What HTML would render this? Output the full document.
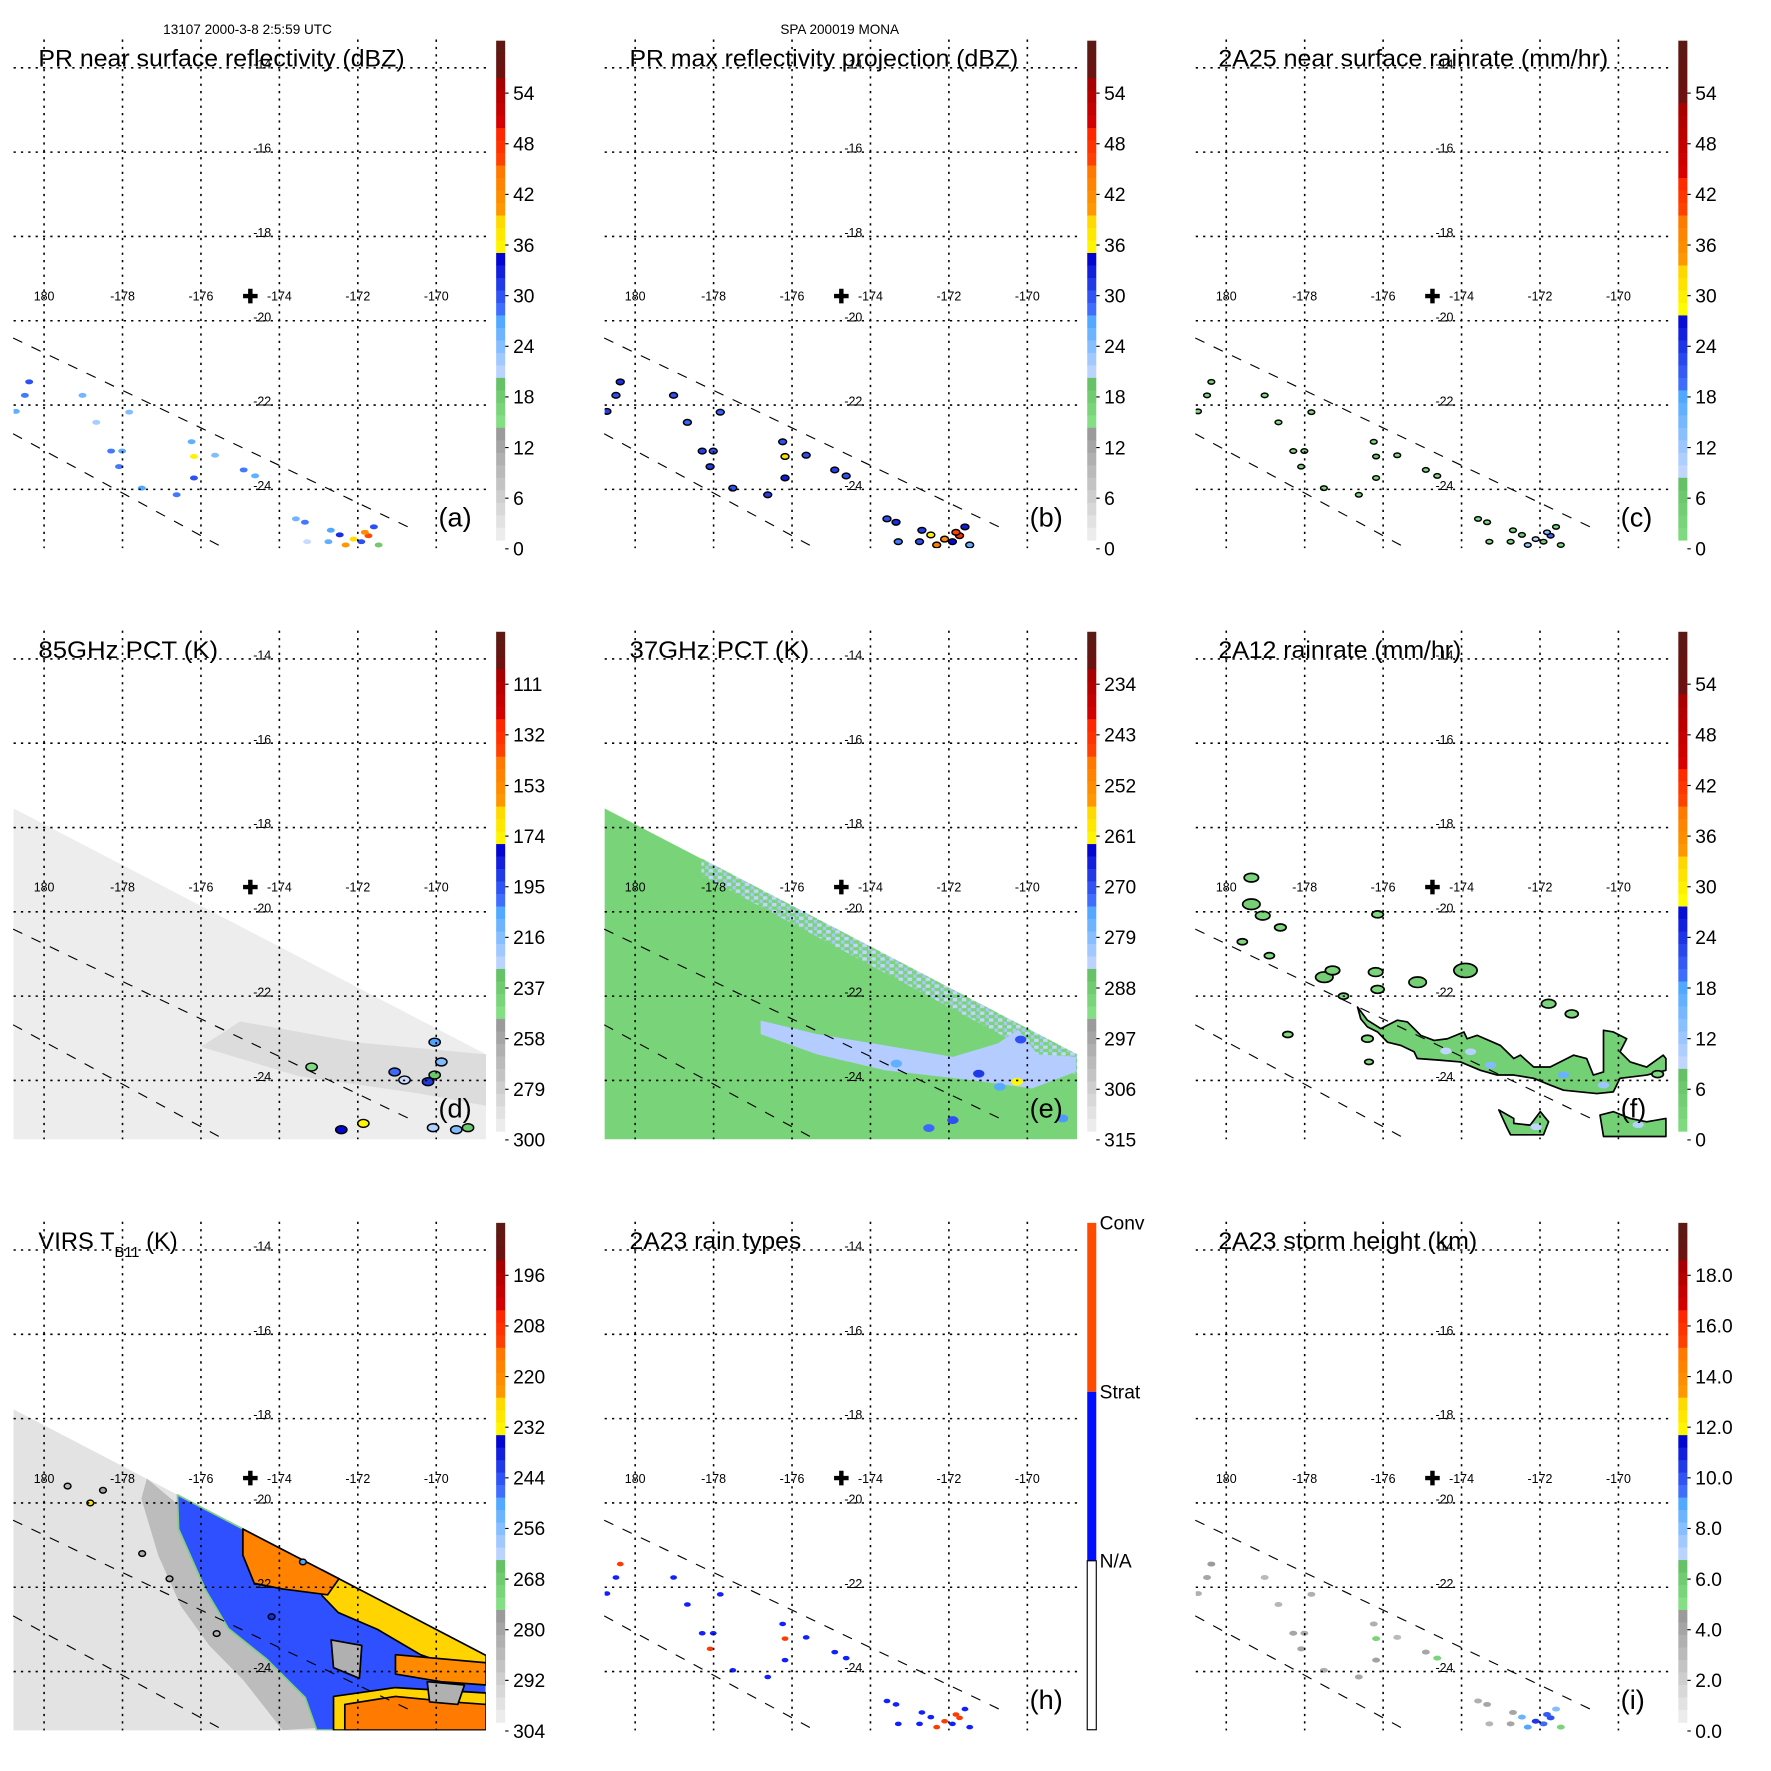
<!DOCTYPE html>
<html><head><meta charset="utf-8">
<style>
html,body{margin:0;padding:0;background:#fff;}
svg{display:block;font-family:"Liberation Sans",Arial,sans-serif;}
</style></head>
<body>
<svg id="fig" xmlns="http://www.w3.org/2000/svg" width="1771" height="1771" viewBox="0 0 1567 1567">
<rect x="0" y="0" width="1567" height="1567" fill="#fff"/>
<text x="219" y="30" font-size="12" text-anchor="middle">13107 2000-3-8 2:5:59 UTC</text>
<text x="743" y="30" font-size="12" text-anchor="middle">SPA 200019 MONA</text>
</svg>
<script>
// ---------- data arrays ----------
const lonTicks=[180,182,184,186,188,190];
const lonTickLabels=['180','-178','-176','-174','-172','-170'];
const latTicks=[-14,-16,-18,-20,-22,-24];
const latTickLabels=['-14','-16','-18','-20','-22','-24'];
const panelTitles=['PR near surface reflectivity (dBZ)','PR max reflectivity projection (dBZ)','2A25 near surface rainrate (mm/hr)','85GHz PCT (K)','37GHz PCT (K)','2A12 rainrate (mm/hr)','VIRS T','2A23 rain types','2A23 storm height (km)'];
const panelLetters=['(a)','(b)','(c)','(d)','(e)','(f)','','(h)','(i)'];
const cbLabelsA=['54','48','42','36','30','24','18','12','6','0'];
const cbLabelsD=['111','132','153','174','195','216','237','258','279','300'];
const cbLabelsE=['234','243','252','261','270','279','288','297','306','315'];
const cbLabelsG=['196','208','220','232','244','256','268','280','292','304'];
const cbLabelsI=['18.0','16.0','14.0','12.0','10.0','8.0','6.0','4.0','2.0','0.0'];
const cbLabelsH=['Conv','Strat','N/A'];
const centerLon=[185.26]; const centerLat=[-19.42];
const pmwEdgeLon=[179.19,191.27]; const pmwEdgeLat=[-17.53,-23.38];
const virsEdgeLon=[179.22,191.27]; const virsEdgeLat=[-17.78,-23.62];
const scan1Lon=[179.21,189.3]; const scan1Lat=[-20.41,-24.9];
const scan2Lon=[179.21,184.48]; const scan2Lat=[-22.68,-25.34];
// PR storm cells
const stormLon=[179.28,179.51,179.62,180.98,181.33,181.71,181.99,181.91,182.17,182.49,183.38,183.76,183.82,183.82,184.36,185.09,185.38,186.42,186.65,186.71,187.31,187.69,188.27,188.09,188.53,187.54,187.89,188.18,188.41,187.25];
const stormLat=[-22.15,-21.77,-21.45,-21.77,-22.41,-23.09,-23.09,-23.46,-22.17,-23.97,-24.13,-22.87,-23.22,-23.73,-23.19,-23.54,-23.68,-24.70,-24.78,-25.24,-24.97,-25.32,-25.10,-25.24,-25.32,-25.08,-25.18,-25.02,-24.89,-25.24];
const reflA=[26,28,30,25,22,28,26,28,24,27,28,26,36,30,24,28,26,25,28,20,27,40,45,30,18,32,38,42,30,26];
const reflB=[31,30,32,30,29,31,30,31,29,30,31,30,38,33,30,31,30,30,32,28,31,44,48,34,26,36,42,46,33,30];
const rainC=[2,2,3,1,1,2,2,2,1,2,2,2,6,3,1,2,2,1,2,1,2,12,20,4,1,5,9,14,3,2];
const typeH=[1,1,2,1,1,1,1,2,1,1,1,1,2,1,1,1,1,1,1,1,1,2,2,1,1,1,2,2,1,1];
const heightI=[3.5,4,4.5,3,3.2,4,3.8,4,3.5,3.6,4,3.5,5.5,4.2,3,4,5.5,3.5,4,3.2,4,9,10,9.5,5.5,8.5,10.5,9.8,8,4];
// 85GHz cells (d)
const pctDLon=[189.96,190.13,188.94,189.19,189.79,189.96,188.14,187.58,189.92,190.51,190.81,186.82];
const pctDLat=[-23.09,-23.56,-23.8,-23.99,-24.03,-23.87,-25.02,-25.17,-25.12,-25.17,-25.12,-23.68];
const pctDVal=[205,215,200,230,190,235,175,180,225,215,235,245];
const dDarkLon=[185.0,188.0,191.27,191.27,189.5,186.5,184.0];
const dDarkLat=[-22.6,-23.1,-23.38,-24.6,-24.3,-23.9,-23.2];
// 37GHz (e)
const eBandLon=[183.2,184.64,186.37,188.1,189.25,189.77,190.26,191.24,191.24,190.12,188.39,186.37,184.64,183.2];
const eBandLat=[-22.58,-22.9,-23.17,-23.44,-23.12,-22.79,-23.38,-23.44,-23.79,-24.19,-23.97,-23.76,-23.38,-22.9];
const eSpotLon=[189.74,188.76,188.1,187.49,189.83,186.66,190.9,189.3];
const eSpotLat=[-24.03,-23.84,-24.94,-25.13,-23.03,-23.6,-24.9,-24.15];
const eSpotVal=[262,268,270,272,270,276,274,275];
// 2A12 (f)
const fBandLon=[183.35,183.6,183.94,184.36,184.62,184.96,185.3,185.64,186.06,186.14,186.4,186.99,187.33,187.5,187.84,188.26,188.86,189.19,189.36,189.62,189.62,189.87,190.21,190.04,190.3,190.72,191.14,191.21,191.21,190.72,190.04,189.87,189.45,188.6,188.26,187.84,187.33,186.91,186.48,185.97,185.47,184.87,184.79,184.45,184.11,183.86,183.6,183.43];
const fBandLat=[-22.26,-22.57,-22.77,-22.57,-22.61,-22.93,-23.05,-23.01,-22.85,-23.01,-22.93,-23.17,-23.48,-23.4,-23.68,-23.68,-23.4,-23.48,-23.87,-23.8,-22.81,-22.85,-23.01,-23.32,-23.56,-23.68,-23.4,-23.48,-23.76,-23.87,-23.95,-24.27,-24.31,-24.23,-24.11,-23.95,-23.87,-23.87,-23.76,-23.56,-23.52,-23.48,-23.32,-23.17,-23.09,-22.85,-22.73,-22.54];
const fB1Lon=[186.95,187.33,187.33,187.75,188.01,188.22,188.09,187.25,187.16];
const fB1Lat=[-24.7,-24.9,-25.02,-25.06,-24.74,-24.98,-25.29,-25.29,-25.13];
const fB2Lon=[189.53,189.87,190.3,190.72,191.21,191.21,189.62];
const fB2Lat=[-24.82,-24.74,-24.9,-24.98,-24.9,-25.33,-25.33];
const fBlobLon=[180.64,180.64,180.93,181.38,180.41,181.1,182.5,182.71,183.81,183.86,184.88,186.1,183.86,188.22,188.81,182.99,183.6,181.57,183.64,191.0];
const fBlobLat=[-19.19,-19.82,-20.09,-20.37,-20.71,-21.04,-21.55,-21.39,-21.43,-21.84,-21.67,-21.39,-20.06,-22.18,-22.42,-22.0,-23.01,-22.91,-23.56,-23.85];
const fBlobRain=[3,4,3,2,1.5,1.5,4,3,3,2.5,4,6,2,3,2.5,1.5,2,1.5,1,2];
const fCoreLon=[186.74,186.23,188.6,189.62,185.6,190.5,187.9];
const fCoreLat=[-23.64,-23.32,-23.87,-24.11,-23.3,-25.05,-25.1];
const fCoreRain=[14,10,16,12,9,10,9];
// VIRS (g)
const gBandLon=[182.62,183.4,183.43,184.12,184.7,185.68,186.66,186.95,186.08,185.07,184.21,183.49,182.91,182.48];
const gBandLat=[-19.42,-20.03,-20.62,-22.07,-22.98,-23.71,-24.62,-25.34,-25.39,-24.19,-23.38,-22.45,-21.24,-19.9];
const gColdLon=[183.4,191.27,191.27,186.95,186.66,185.68,184.7,184.12,183.43];
const gColdLat=[-19.81,-23.62,-25.39,-25.39,-24.62,-23.71,-22.98,-22.07,-20.62];
const gO1Lon=[185.07,187.52,187.23,186.08,185.36,185.07]; const gO1Lat=[-20.62,-21.8,-22.18,-22.04,-21.91,-21.24];
const gY1Lon=[187.09,191.27,191.27,189.6,188.5,187.5,187.09]; const gY1Lat=[-21.59,-23.62,-24.15,-23.6,-23.0,-22.6,-22.2];
const gO2Lon=[188.96,191.27,191.27,190.12,188.96]; const gO2Lat=[-23.6,-23.79,-24.32,-24.24,-24.06];
const gY3Lon=[187.38,188.96,191.27,191.27,187.38]; const gY3Lat=[-24.59,-24.38,-24.51,-25.39,-25.39];
const gO3Lon=[187.67,188.96,190.4,191.27,191.27,187.67]; const gO3Lat=[-24.78,-24.59,-24.72,-24.78,-25.39,-25.39];
const gG1Lon=[187.32,188.1,188.04,187.38]; const gG1Lat=[-23.25,-23.38,-24.16,-23.91];
const gG2Lon=[189.77,190.72,190.55,189.83]; const gG2Lat=[-24.24,-24.32,-24.78,-24.72];
const gSpotLon=[181.18,180.6,181.5,182.5,183.2,184.4,185.8,186.6];
const gSpotLat=[-20.0,-19.6,-19.7,-21.2,-21.8,-23.1,-22.7,-21.4];
const gSpotVal=[230,285,280,282,282,284,240,250];

// ---------- helpers ----------
const NS='http://www.w3.org/2000/svg';
const fig=document.getElementById('fig');
function mk(tag,attrs,parent){const e=document.createElementNS(NS,tag);for(const k in attrs)e.setAttribute(k,attrs[k]);parent.appendChild(e);return e;}
function xOf(lon){return 39+(lon-180)*34.7;}
function yOf(lat){return 60+(-14-lat)*37.3;}
function pts(lons,lats){return lons.map((l,i)=>xOf(l).toFixed(1)+','+yOf(lats[i]).toFixed(1)).join(' ');}
const stdStops=[[0,'#f8f8f8'],[0.243,'#949494'],[0.245,'#86e086'],[0.326,'#66c066'],[0.328,'#d0dcff'],[0.45,'#50a8ff'],[0.47,'#4070ff'],[0.576,'#0000d0'],[0.578,'#ffff00'],[0.66,'#ffd000'],[0.662,'#ff9a00'],[0.746,'#ff7800'],[0.748,'#ff4a00'],[0.83,'#ff2000'],[0.832,'#d80000'],[0.916,'#a80000'],[0.918,'#701010'],[1,'#5a1a14']];
const rainStops=[[0,'#86e086'],[0.128,'#66c066'],[0.13,'#d0dcff'],[0.3,'#50a8ff'],[0.32,'#4070ff'],[0.464,'#0000d0'],[0.466,'#ffff00'],[0.56,'#ffd000'],[0.562,'#ff9a00'],[0.65,'#ff7800'],[0.652,'#ff4a00'],[0.74,'#ff2000'],[0.742,'#d80000'],[0.87,'#a80000'],[0.872,'#701010'],[1,'#5a1a14']];
function hex2(c){return [parseInt(c.substr(1,2),16),parseInt(c.substr(3,2),16),parseInt(c.substr(5,2),16)];}
function cmap(stops,f){f=Math.max(0,Math.min(1,f));for(let i=0;i<stops.length-1;i++){const a=stops[i],b=stops[i+1];if(f<=b[0]){const t=(b[0]-a[0])>0?(f-a[0])/(b[0]-a[0]):0;const A=hex2(a[1]),B=hex2(b[1]);return 'rgb('+A.map((v,k)=>Math.round(v+(B[k]-v)*t)).join(',')+')';}}return stops[stops.length-1][1];}

const fA=v=>v/60, fC=v=>v/60, fD=v=>(300-v)/210, fE=v=>(315-v)/90, fG=v=>(304-v)/120, fI=v=>v/20;

// defs
const defs=mk('defs',{},fig);
const clip=mk('clipPath',{id:'plotclip'},defs);
mk('rect',{x:12,y:35,width:418,height:450},clip);
const pat=mk('pattern',{id:'edgepat',width:8,height:6,patternUnits:'userSpaceOnUse'},defs);
mk('rect',{x:0,y:0,width:8,height:6,fill:'#7ad47a'},pat);
mk('rect',{x:0,y:0,width:4,height:3,fill:'#c4d4ff'},pat);
mk('rect',{x:5,y:3,width:3,height:3,fill:'#a9c6ff'},pat);

function panel(idx){
  const col=idx%3,row=Math.floor(idx/3);
  const g=mk('g',{transform:'translate('+(col*523)+','+(row*523)+')'},fig);
  
  
  const data=mk('g',{'clip-path':'url(#plotclip)'},g);
  
  
  return {g,data};
}
function swath(parent,lonE,latE,fill){
  const lons=[lonE[0],lonE[1],191.3,179.2]; const lats=[latE[0],latE[1],-25.45,-25.45];
  const p=mk('polygon',{points:pts(lons,lats),fill:fill},parent);
  
  
  return p;
}
function poly(parent,lons,lats,fill,stroke,name){
  const p=mk('polygon',{points:pts(lons,lats),fill:fill,stroke:stroke||'none','stroke-width':1.5,'stroke-linejoin':'round'},parent);
  
  
  return p;
}
function cells(parent,lons,lats,vals,colorFn,rx,ry,stroke,name){
  lons.forEach((l,i)=>{
    const e=mk('ellipse',{cx:xOf(l).toFixed(1),cy:yOf(lats[i]).toFixed(1),rx:rx,ry:ry,fill:colorFn(vals[i]),stroke:stroke||'none','stroke-width':1.3},parent);
    
    
  });
}
function frame(p,idx,labels,stops,fracOf){
  const g=p.g;
  const grid=mk('g',{stroke:'#000','stroke-width':1.4,'stroke-dasharray':'2 4.5'},g);
  
  
  lonTicks.forEach(l=>{const ln=mk('line',{x1:xOf(l),x2:xOf(l),y1:35,y2:485},grid);
    
    });
  latTicks.forEach(l=>{const ln=mk('line',{x1:12,x2:430,y1:yOf(l),y2:yOf(l)},grid);
    
    });
  [[scan1Lon,scan1Lat],[scan2Lon,scan2Lat]].forEach(s=>{
    const ln=mk('line',{x1:xOf(s[0][0]),y1:yOf(s[1][0]),x2:xOf(s[0][1]),y2:yOf(s[1][1]),stroke:'#000','stroke-width':1,'stroke-dasharray':'9 9'},g);
    
    
  });
  lonTicks.forEach((l,i)=>{const t=mk('text',{x:xOf(l),y:266,'font-size':11,'text-anchor':'middle'},g);t.textContent=lonTickLabels[i];
    
    });
  latTicks.forEach((l,i)=>{const t=mk('text',{x:240,y:yOf(l)+0.5,'font-size':11,'text-anchor':'end'},g);t.textContent=latTickLabels[i];
    
    });
  const c=mk('text',{x:xOf(centerLon[0]),y:yOf(centerLat[0])+6,'font-size':17,'font-weight':'bold','text-anchor':'middle'},g);
  c.textContent='✚';
  
  
  const tt=mk('text',{x:idx%3==2?32:34,y:59,'font-size':21},g);
  
  
  if(idx==6){
    tt.textContent=panelTitles[6];
    const s=mk('tspan',{'font-size':13,dy:7},tt); s.textContent='B11';
    
    
    const r=mk('tspan',{dy:-7},tt); r.textContent=' (K)';
    
    
  } else {
    tt.textContent=panelTitles[idx];
    const widths=[324,344,345,159,159,215,0,152,229];
    tt.setAttribute('textLength',widths[idx]);
    tt.setAttribute('lengthAdjust','spacingAndGlyphs');
  }
  if(panelLetters[idx]){
    const lt=mk('text',{x:388,y:466,'font-size':24},g); lt.textContent=panelLetters[idx];
    
    
  }
  const cb=mk('g',{},g);
  
  
  if(idx==7){
    const cols=['#ff4a00','#0010ff','#ffffff'];
    cols.forEach((cc,i)=>{const r=mk('rect',{x:439,y:36+i*149.5,width:8,height:149.5,fill:cc,stroke:i==2?'#000':'none','stroke-width':1},cb);
      
      });
    cbLabelsH.forEach((s,i)=>{const t=mk('text',{x:450,y:42+i*149.5,'font-size':17},cb);t.textContent=s;
      
      });
    return;
  }
  const N=40,top=36,bot=478,h=(bot-top)/N;
  for(let i=0;i<N;i++){
    const yc=top+(i+0.5)*h; const f=(485-yc)/448;
    const r=mk('rect',{x:439,y:(top+i*h).toFixed(2),width:8,height:(h+0.3).toFixed(2),fill:cmap(stops,f)},cb);
    
    
  }
  labels.forEach((s,i)=>{
    const y=82.4+i*44.8;
    const tk=mk('line',{x1:447,x2:450,y1:y,y2:y,stroke:'#000','stroke-width':1},cb);
    
    
    const t=mk('text',{x:454,y:y+6,'font-size':17},cb);t.textContent=s;
    
    
  });
}

// ---- (a)
let P=panel(0);
cells(P.data,stormLon,stormLat,reflA,v=>cmap(stdStops,fA(v)),3.5,2.2,null,'pr-cell');
frame(P,0,cbLabelsA,stdStops,fA);
// ---- (b)
P=panel(1);
cells(P.data,stormLon,stormLat,reflB,v=>cmap(stdStops,fA(v)),3.5,2.5,'#000','pr-max-cell');
frame(P,1,cbLabelsA,stdStops,fA);
// ---- (c)
P=panel(2);
cells(P.data,stormLon,stormLat,rainC,v=>cmap(rainStops,fC(v)),3,2,'#000','rain-cell');
frame(P,2,cbLabelsA,rainStops,fC);
// ---- (d)
P=panel(3);
swath(P.data,pmwEdgeLon,pmwEdgeLat,'#ededed');
poly(P.data,dDarkLon,dDarkLat,'#dcdcdc',null,'cold-region');
cells(P.data,pctDLon,pctDLat,pctDVal,v=>cmap(stdStops,fD(v)),5,3.5,'#000','pct85-cell');
frame(P,3,cbLabelsD,stdStops,fD);
// ---- (e)
P=panel(4);
swath(P.data,pmwEdgeLon,pmwEdgeLat,'#79d479');
const stripLon=[pmwEdgeLon[0]+2.5,pmwEdgeLon[1],pmwEdgeLon[1],pmwEdgeLon[0]+2.5];
const stripLat=[pmwEdgeLat[0]-1.2,pmwEdgeLat[1],pmwEdgeLat[1]-0.5,pmwEdgeLat[0]-1.6];
poly(P.data,stripLon,stripLat,'url(#edgepat)',null,'scatter-edge');
poly(P.data,eBandLon,eBandLat,'#b4ccff',null,'scatter-band');
cells(P.data,eSpotLon,eSpotLat,eSpotVal,v=>cmap(stdStops,fE(v)),5,3.5,null,'pct37-cell');
frame(P,4,cbLabelsE,stdStops,fE);
// ---- (f)
P=panel(5);
poly(P.data,fBandLon,fBandLat,'#74d074','#000','rain-band');
poly(P.data,fB1Lon,fB1Lat,'#74d074','#000','rain-area');
poly(P.data,fB2Lon,fB2Lat,'#74d074','#000','rain-area');
fBlobLon.forEach((l,i)=>{const rx=2.5+fBlobRain[i]*1.3;
  const e=mk('ellipse',{cx:xOf(l),cy:yOf(fBlobLat[i]),rx:rx,ry:rx*0.6,fill:cmap(rainStops,fC(fBlobRain[i])),stroke:'#000','stroke-width':1.5},P.data);
  
  });
cells(P.data,fCoreLon,fCoreLat,fCoreRain,v=>cmap(rainStops,fC(v)),5,3,null,'rain-core');
frame(P,5,cbLabelsA,rainStops,fC);
// ---- (g)
P=panel(6);
swath(P.data,virsEdgeLon,virsEdgeLat,'#e3e3e3');
poly(P.data,gBandLon,gBandLat,'#bcbcbc',null,'warm-cloud-band');
poly(P.data,gColdLon,gColdLat,'#2f50ff','#80d080','cold-cloud');
poly(P.data,gY1Lon,gY1Lat,'#ffd400','#000','cloud-top-yellow');
poly(P.data,gO1Lon,gO1Lat,'#ff8200','#000','cloud-top-orange');
poly(P.data,gO2Lon,gO2Lat,'#ff8a00','#000','cloud-top-orange');
poly(P.data,gY3Lon,gY3Lat,'#ffd400','#000','cloud-top-yellow');
poly(P.data,gO3Lon,gO3Lat,'#ff7a00','#000','cloud-top-orange');
poly(P.data,gG1Lon,gG1Lat,'#b0b0b0','#000','warm-patch');
poly(P.data,gG2Lon,gG2Lat,'#b0b0b0','#000','warm-patch');
cells(P.data,gSpotLon,gSpotLat,gSpotVal,v=>cmap(stdStops,fG(v)),3,2.5,'#000','virs-cell');
frame(P,6,cbLabelsG,stdStops,fG);
// ---- (h)
P=panel(7);
cells(P.data,stormLon,stormLat,typeH,v=>v==2?'#ff3a00':'#1020ff',3,2,null,'rain-type-cell');
frame(P,7,null,null,null);
// ---- (i)
P=panel(8);
cells(P.data,stormLon,stormLat,heightI,v=>cmap(stdStops,fI(v)),3.5,2.2,null,'storm-height-cell');
frame(P,8,cbLabelsI,stdStops,fI);
</script>
</body></html>
